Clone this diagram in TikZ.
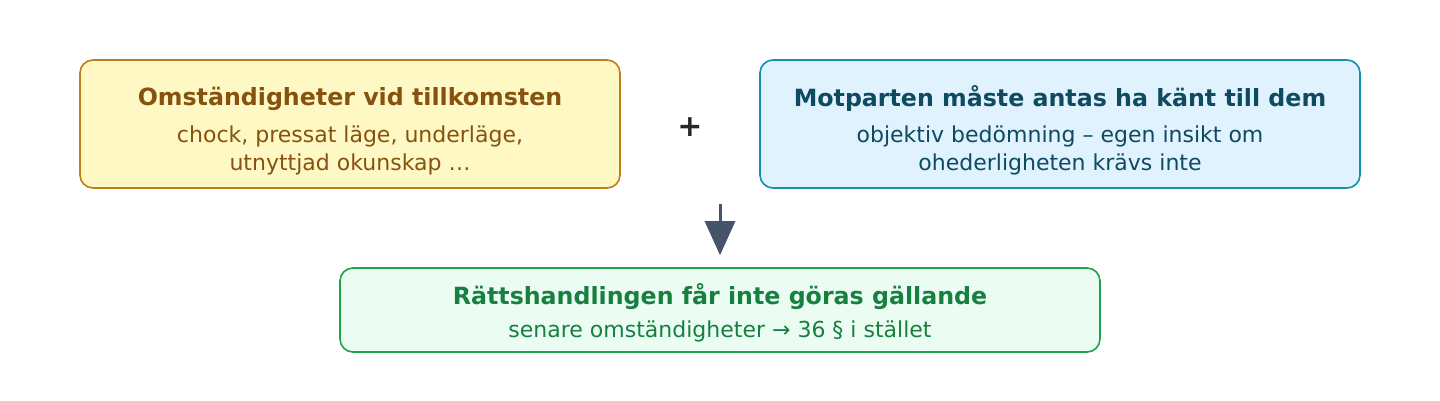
\documentclass[tikz,border=0pt]{standalone}
\usepackage{fontspec}
\setmainfont{DejaVu Sans}
\usetikzlibrary{arrows.meta,positioning}
\definecolor{yelfill}{HTML}{FEF8C4}
\definecolor{yeldraw}{HTML}{BE7E1E}
\definecolor{yeltext}{HTML}{87520F}
\definecolor{bluefill}{HTML}{E0F2FE}
\definecolor{bluedraw}{HTML}{1290B0}
\definecolor{bluetext}{HTML}{0E4A60}
\definecolor{grnfill}{HTML}{EBFCF3}
\definecolor{grndraw}{HTML}{1EA34C}
\definecolor{grntext}{HTML}{178040}
\definecolor{arrowcol}{HTML}{455468}
\begin{document}
\begin{tikzpicture}[x=1pt,y=-1pt,
        box/.style={draw,rectangle,rounded corners=13pt,line width=1.6pt,inner sep=0pt},
        ttl/.style={font=\fontsize{23.7}{28}\selectfont\bfseries,inner sep=0pt},
        sub/.style={font=\fontsize{22}{28}\selectfont,align=center,inner sep=0pt},
        flow/.style={draw=arrowcol,line width=3pt,-{Triangle[width=30pt,length=34pt]}}]
        \useasboundingbox(0,0)rectangle(1440,400);
        % boxes
        \node[box,fill=yelfill,draw=yeldraw,minimum width=540pt,minimum height=128pt](cond)at(350,124){};
        \node[box,fill=bluefill,draw=bluedraw,minimum width=600pt,minimum height=128pt](know)at(1060,124){};
        \node[box,fill=grnfill,draw=grndraw,minimum width=760pt,minimum height=84pt](res)at(720,310){};
        % texts
        \node[ttl,text=yeltext](condttl)at(350,98.5){Omständigheter vid tillkomsten};
        \node[sub,text=yeltext](condsub)at(350,150){chock, pressat läge, underläge,\\utnyttjad okunskap …};
        \node[ttl,text=bluetext](knowttl)at(1060,98.5){Motparten måste antas ha känt till dem};
        \node[sub,text=bluetext](knowsub)at(1060,150){objektiv bedömning – egen insikt om\\ohederligheten krävs inte};
        \node[ttl,text=grntext](resttl)at(720,297){Rättshandlingen får inte göras gällande};
        \node[sub,text=grntext](ressub)at(720,331){senare omständigheter → 36 § i stället};
        \node[font=\fontsize{30}{30}\selectfont\bfseries,text=black!85,inner sep=0pt](plus)at(690,127){+};
        % arrow
        \coordinate(join)at(720,188);
        \draw[flow,shorten <=16pt,shorten >=12pt](join)--(res.north);
    \end{tikzpicture}
\end{document}
